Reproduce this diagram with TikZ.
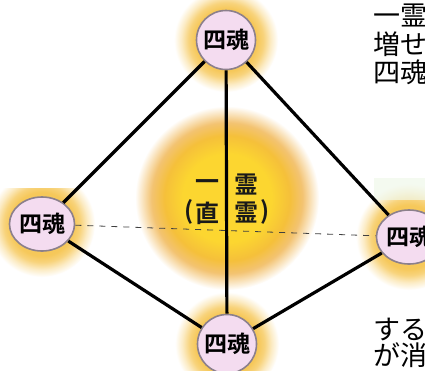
\documentclass[tikz,border=0pt]{standalone}
\usepackage{fontspec}
\newfontfamily\cjk{Noto Sans CJK JP}
\newfontfamily\cjkb{Noto Sans CJK JP Bold}
\usetikzlibrary{shapes.geometric}
\definecolor{nodefill}{RGB}{244,220,240}
\definecolor{nodeborder}{RGB}{140,128,140}
\definecolor{glowin}{RGB}{246,200,90}
\definecolor{ccore}{RGB}{252,214,48}
\definecolor{cmid}{RGB}{245,192,58}
\definecolor{cedge}{RGB}{240,180,78}
\definecolor{bandgreen}{RGB}{240,248,234}
\pgfdeclareradialshading{nodeglow}{\pgfpoint{0bp}{0bp}}{color(0bp)=(glowin); color(15bp)=(glowin); color(18bp)=(glowin!80!white); color(21.5bp)=(glowin!35!white); color(25bp)=(white); color(50bp)=(white)}
\pgfdeclareradialshading{centerglow}{\pgfpoint{0bp}{0bp}}{color(0bp)=(ccore); color(12bp)=(ccore); color(17bp)=(cmid); color(20.5bp)=(cedge!80!white); color(25bp)=(white); color(50bp)=(white)}
\tikzset{
  soul/.style={draw=nodeborder, line width=1.6pt, fill=nodefill, inner sep=0pt,
    font=\cjkb\fontsize{23}{23}\selectfont},
  roundsoul/.style={soul, circle, minimum size=59pt},
  sidesoul/.style={soul, ellipse, minimum width=62pt, minimum height=54pt},
  edge/.style={line width=3.2pt, black},
  thinedge/.style={line width=0.8pt, black!75, dash pattern=on 6pt off 6pt},
  cchar/.style={font=\cjkb\fontsize{24}{24}\selectfont, inner sep=0pt, text=black!90},
  sidetext/.style={font=\cjk\fontsize{27}{27}\selectfont, inner sep=0pt, anchor=west}
}
\begin{document}
\begin{tikzpicture}[x=1pt,y=-1pt]
\useasboundingbox (0,0) rectangle (425,370);
\clip (0,0) rectangle (425,370);
\fill[white] (0,0) rectangle (425,370);
% glows
\shade[shading=centerglow] (227,198) circle (92);
\shade[shading=nodeglow] (226,40) circle (52);
\shade[shading=nodeglow] (227,344) circle (52);
\begin{scope}
\clip (0,188) rectangle (120,300);
\shade[shading=nodeglow] (42,224) circle (53);
\end{scope}
\shade[shading=nodeglow] (409,237) circle (53);
\fill[bandgreen, fill opacity=0.7] (374,178) rectangle (425,200);
% nodes
\node[roundsoul] (T) at (226,40) {四魂};
\node[roundsoul] (B) at (227,344) {四魂};
\node[sidesoul] (L) at (42,224) {四魂};
\node[sidesoul] (R) at (409,237) {四魂};
% connectors
\draw[thinedge] (L) -- (R);
\draw[edge] (T) -- (L);
\draw[edge] (T) -- (R);
\draw[edge] (T) -- (B);
\draw[edge] (L) -- (B);
\draw[edge] (R) -- (B);
% centre text
\node[cchar] (c1) at (207,185) {一};
\node[cchar] (c2) at (246,185) {霊};
\node[cchar] (c3) at (207,213) {直};
\node[cchar] (c4) at (246,213) {霊};
\node[cchar] (c5) at (189,212) {(};
\node[cchar] (c6) at (265,212) {)};
% side texts (cut by the frame)
\node[sidetext] (t1) at (373,15) {一霊};
\node[sidetext] (t2) at (373,44) {増せ};
\node[sidetext] (t3) at (373,72) {四魂};
\node[sidetext] (t4) at (373,330) {する};
\node[sidetext] (t5) at (373,355) {が消};
\end{tikzpicture}
\end{document}
